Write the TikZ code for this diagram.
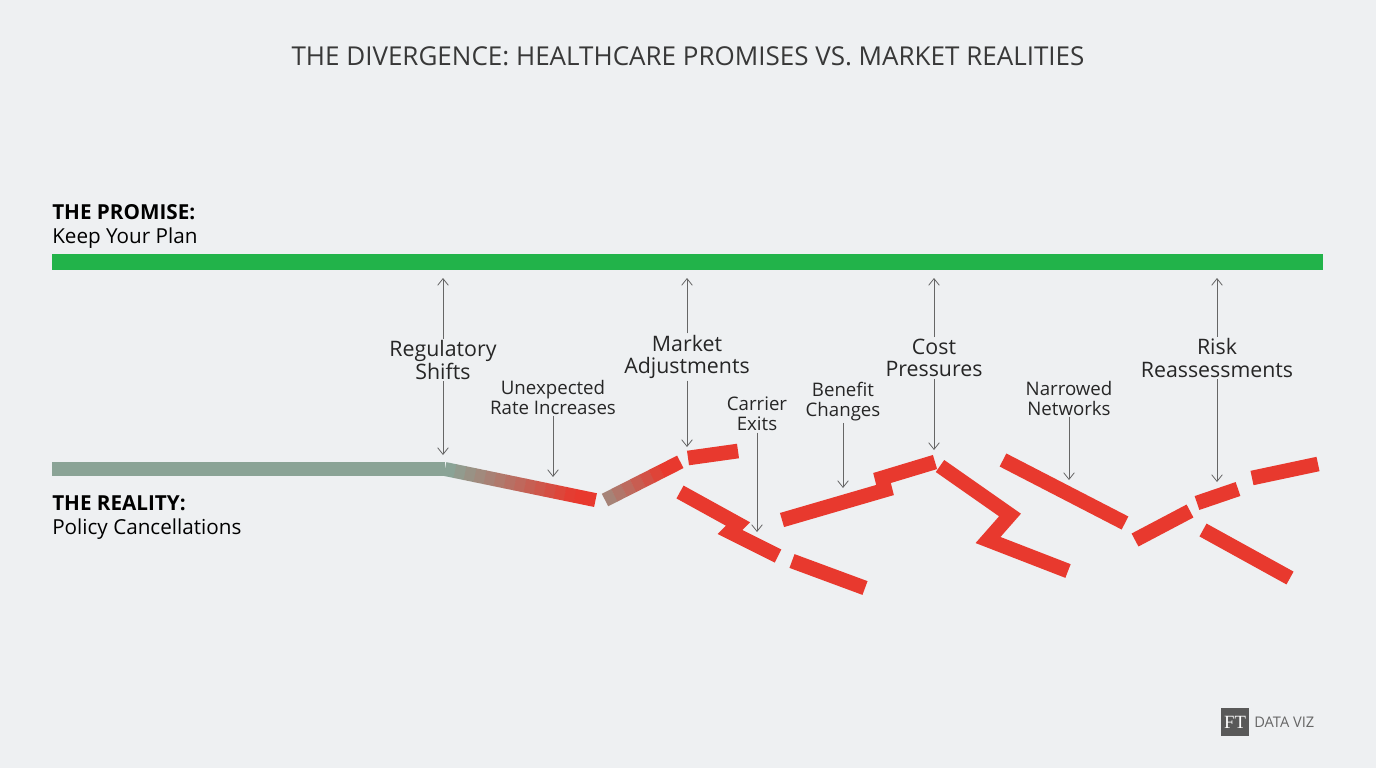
\documentclass[tikz,border=0pt]{standalone}
\usepackage{fontspec}
\setmainfont{Open Sans}
\newfontfamily\serifft{Liberation Serif}
\begin{document}
\begin{tikzpicture}[x=0.75pt,y=-0.75pt,
 frag/.style={line width=11pt,draw=redbar,line join=miter,line cap=butt},
 lab/.style={align=center,font=\fontsize{16}{17}\selectfont,text=black!85,inner sep=1pt},
 slab/.style={align=center,font=\fontsize{14}{15}\selectfont,text=black!85,inner sep=1pt},
 arr/.style={draw=black!60,line width=0.6pt,->,>={Straight Barb[length=5pt,width=8pt]}}]
\usetikzlibrary{arrows.meta}
\definecolor{bg}{HTML}{EEF0F2}
\definecolor{greenbar}{HTML}{22B34A}
\definecolor{graybar}{HTML}{8AA396}
\definecolor{redbar}{HTML}{E8392E}
\fill[bg] (0,0) rectangle (1376,768);
\useasboundingbox (0,0) rectangle (1376,768);
\node[font=\fontsize{19.5}{20}\selectfont,text=black!78] (title) at (688,56) {THE DIVERGENCE: HEALTHCARE PROMISES VS. MARKET REALITIES};
\node[anchor=west,font=\fontsize{15.5}{16}\selectfont\bfseries,inner sep=0] (p1) at (52,212) {THE PROMISE:};
\node[anchor=west,font=\fontsize{15.5}{16}\selectfont,inner sep=0] (p2) at (52,238) {Keep Your Plan};
\node[anchor=west,font=\fontsize{15.5}{16}\selectfont\bfseries,inner sep=0] (r1) at (52,503) {THE REALITY:};
\node[anchor=west,font=\fontsize{15.5}{16}\selectfont,inner sep=0] (r2) at (52,529) {Policy Cancellations};
\fill[greenbar] (52,254) rectangle (1323,270);
\fill[graybar] (52,462) rectangle (445,476);
% gradient segment
\foreach \i in {0,...,14}{
 \pgfmathsetmacro{\a}{\i/15}\pgfmathsetmacro{\b}{(\i+1)/15}
 \pgfmathsetmacro{\c}{min(100,\i*8)}
 \colorlet{cc}{redbar!\c!graybar}
 \draw[line width=10.5pt,draw=cc] ({445+150*\a},{469+31*\a}) -- ({445+150*\b+0.5},{469+31*\b+0.1});}
\foreach \i in {0,...,7}{
 \pgfmathsetmacro{\a}{\i/8}\pgfmathsetmacro{\b}{(\i+1)/8}
 \pgfmathsetmacro{\c}{min(100,30+\i*12)}
 \colorlet{cc}{redbar!\c!graybar}
 \draw[line width=10.5pt,draw=cc] ({605+75*\a},{500-38*\a}) -- ({605+75*\b+0.3},{500-38*\b-0.15});}
\draw[frag] (688,458) -- (738,451);
\draw[frag] (680,492) -- (738,524) -- (730,532) -- (778,556);
\draw[frag] (792,561) -- (865,588);
\draw[frag] (782,520) -- (885,490) -- (882,478) -- (935,462);
\draw[frag] (940,466) -- (1010,515) -- (988,540) -- (1068,571);
\draw[frag] (1003,460) -- (1125,523);
\draw[frag] (1135,540) -- (1190,511);
\draw[frag] (1197,503) -- (1238,489);
\draw[frag] (1252,478) -- (1318,464);
\draw[frag] (1203,530) -- (1290,578);
% labels
\node[lab] (l1) at (443,360) {Regulatory\\Shifts};
\node[slab] (l2) at (553,397) {Unexpected\\Rate Increases};
\node[lab] (l3) at (687,357) {Market\\Adjustments};
\node[slab] (l4) at (757,414) {Carrier\\Exits};
\node[slab] (l5) at (843,402) {Benefit\\Changes};
\node[lab] (l6) at (934,358) {Cost\\Pressures};
\node[slab] (l7) at (1069,398) {Narrowed\\Networks};
\node[lab] (l8) at (1217,358) {Risk\\Reassessments};
\coordinate (g1) at (443,278); \coordinate (d1) at (443,455);
\coordinate (d2) at (553,477);
\coordinate (g3) at (687,278); \coordinate (d3) at (687,447);
\coordinate (d4) at (757,532);
\coordinate (d5) at (843,488);
\coordinate (g6) at (934,278); \coordinate (d6) at (934,450);
\coordinate (d7) at (1069,480);
\coordinate (g8) at (1217,278); \coordinate (d8) at (1217,482);
\foreach \n in {1,3,6,8}{\draw[arr] (l\n.north) -- (g\n);}
\foreach \n in {1,...,8}{\draw[arr] (l\n.south) -- (d\n);}
% logo
\fill[black!65] (1221,708) rectangle (1249,736);
\node[text=white,font=\serifft\fontsize{14}{14}\selectfont,inner sep=0] (ft) at (1235,722) {FT};
\node[anchor=west,text=black!60,font=\fontsize{11}{12}\selectfont,inner sep=0] (dv) at (1254,722) {DATA VIZ};
\end{tikzpicture}
\end{document}
